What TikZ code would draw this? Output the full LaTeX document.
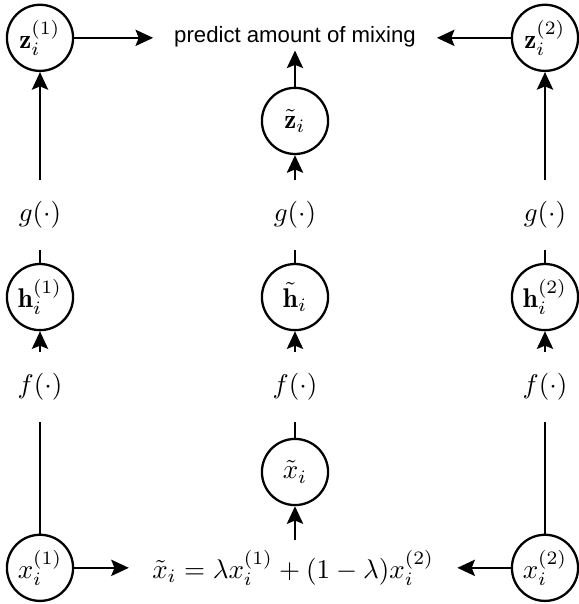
\documentclass[tikz,border=0pt]{standalone}
\usepackage{amsmath}
\usepackage{amssymb}
\usepackage{fontspec}
\newfontfamily\labelfont{Liberation Sans}
\usetikzlibrary{arrows.meta}

\begin{document}
\begin{tikzpicture}[line width=0.85pt,
		>={Stealth[length=6.5pt,width=6pt,inset=1.2pt]},
		var/.style={draw,circle,minimum size=0.86cm,inner sep=0pt},
		fn/.style={inner sep=0pt,minimum height=0.88cm}]
		\useasboundingbox (0,0) rectangle (7.527,7.852);
		% top row
		\node[var] (z1) at (0.52,7.36) {$\mathbf{z}_i^{(1)}$};
		\node[var] (z2) at (7.085,7.36) {$\mathbf{z}_i^{(2)}$};
		\node[inner xsep=0.26cm,inner ysep=1pt] (pred) at (3.835,7.38) {\labelfont\fontsize{8.2}{10}\selectfont predict amount of mixing};
		\node[var] (zt) at (3.835,6.28) {$\tilde{\mathbf{z}}_i$};
		% projection heads
		\node[fn] (g1) at (0.52,5.057) {$g(\cdot)$};
		\node[fn] (gt) at (3.835,5.057) {$g(\cdot)$};
		\node[fn] (g2) at (7.085,5.057) {$g(\cdot)$};
		\node[var] (h1) at (0.52,3.99) {$\mathbf{h}_i^{(1)}$};
		\node[var] (ht) at (3.835,3.99) {$\tilde{\mathbf{h}}_i$};
		\node[var] (h2) at (7.085,3.99) {$\mathbf{h}_i^{(2)}$};
		% encoders
		\node[fn] (f1) at (0.52,2.82) {$f(\cdot)$};
		\node[fn] (ft) at (3.835,2.82) {$f(\cdot)$};
		\node[fn] (f2) at (7.085,2.82) {$f(\cdot)$};
		\node[var] (xt) at (3.835,1.716) {$\tilde{x}_i$};
		\node[var] (x1) at (0.52,0.47) {$x_i^{(1)}$};
		\node[var] (x2) at (7.085,0.47) {$x_i^{(2)}$};
		\node[inner xsep=0.29cm] (mix) at (3.81,0.47) {$\tilde{x}_i = \lambda x_i^{(1)} + (1-\lambda)x_i^{(2)}$};
		% left branch
		\draw (x1) -- (f1);
		\draw[->] (f1) -- (h1);
		\draw (h1) -- (g1);
		\draw[->] (g1) -- (z1);
		% right branch
		\draw (x2) -- (f2);
		\draw[->] (f2) -- (h2);
		\draw (h2) -- (g2);
		\draw[->] (g2) -- (z2);
		% mixed branch
		\draw[->] (mix.north -| xt) -- (xt);
		\draw (xt) -- (ft);
		\draw[->] (ft) -- (ht);
		\draw (ht) -- (gt);
		\draw[->] (gt) -- (zt);
		\draw[->] (zt) -- (pred);
		\draw[->] (z1) -- (z1 -| pred.west);
		\draw[->] (z2) -- (z2 -| pred.east);
		\draw[->] (x1) -- (x1 -| mix.west);
		\draw[->] (x2) -- (x2 -| mix.east);
	\end{tikzpicture}
\end{document}
